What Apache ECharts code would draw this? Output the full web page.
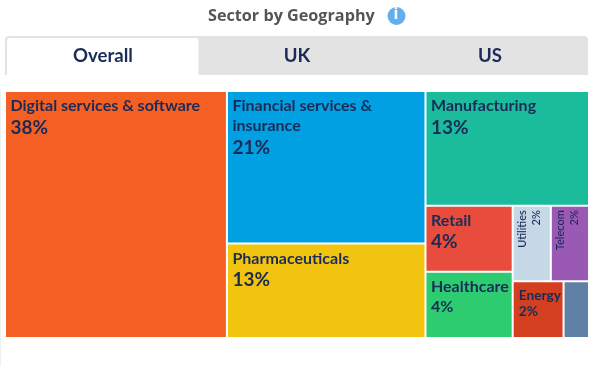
<!DOCTYPE html>
<html><head><meta charset="utf-8">
<style>html,body{margin:0;padding:0;background:#fff}#c{width:595px;height:366px}</style>
<script src="https://cdn.jsdelivr.net/npm/echarts@6/dist/echarts.min.js"></script>
</head><body><div id="c"></div>
<script>
const titleText = 'Sector by Geography';
const tabs = ['Overall', 'UK', 'US'];
const sectors = ['Digital services & software','Financial services & insurance','Pharmaceuticals','Manufacturing','Retail','Healthcare','Utilities','Telecom','Energy','Other'];
const shares = [38,21,13,13,4,4,2,2,2,1];
const colors = ['#F46023','#00A0E3','#F1C40F','#1ABC9C','#E74C3C','#2ECC71','#C5D8E6','#9B59B6','#D33F1F','#6180A5'];
const big = new Set(['Digital services & software','Financial services & insurance','Pharmaceuticals','Manufacturing','Retail']);
const vertical = new Set(['Utilities','Telecom']);
const hidden = new Set(['Other']);
const ink = '#1B2B57';
const font = 'Lato';

const data = sectors.map((n,i)=>{
  const d = {name:n,value:shares[i],itemStyle:{color:colors[i]}};
  if (hidden.has(n)) d.label={show:false};
  if (vertical.has(n)) d.label={rotate:90,position:'insideTop',distance:4,offset:[5,16],overflow:'none',align:'right',verticalAlign:'middle',lineHeight:14,
     formatter:'{s|{b}}\n{s|{c}%}',rich:{s:{fontSize:11,fontWeight:500,fontFamily:font,color:ink,lineHeight:14}}};
  if (n==='Energy') d.label={formatter:'{e|{b}}\n{e|{c}%}',padding:[5,5],rich:{e:{fontSize:13.7,fontWeight:'bold',fontFamily:font,color:ink,lineHeight:16}}};
  return d;
});
const chart = echarts.init(document.getElementById('c'));
chart.setOption({
  animation:false,
  graphic:[
    {type:'text',left:208,top:8,style:{text:titleText,font:'bold 16.2px "Open Sans"',fill:'#555'}},
    {type:'circle',shape:{cx:396.5,cy:16,r:9},style:{fill:'#62AEEF'}},
    {type:'text',left:393.5,top:6,style:{text:'i',font:'bold 16px "Open Sans"',fill:'#fff'}},
    {type:'rect',shape:{x:5,y:36,width:583,height:39,r:[4,4,0,0]},style:{fill:'#E3E3E3'}},
    {type:'rect',shape:{x:7,y:38,width:191.5,height:37,r:[3,3,0,0]},style:{fill:'#fff'}},
    {type:'text',x:103,y:56,style:{text:tabs[0],font:'bold 18.6px Lato',fill:ink,align:'center',verticalAlign:'middle'}},
    {type:'text',x:297,y:56,style:{text:tabs[1],font:'bold 18.6px Lato',fill:ink,align:'center',verticalAlign:'middle'}},
    {type:'text',x:490,y:56,style:{text:tabs[2],font:'bold 18.6px Lato',fill:ink,align:'center',verticalAlign:'middle'}},
    {type:'line',shape:{x1:0.5,y1:90,x2:0.5,y2:366},style:{stroke:'#EFEFEF',lineWidth:1}}
  ],
  series:[{
    type:'treemap',left:4,top:90,width:586,height:249,
    roam:false,nodeClick:false,breadcrumb:{show:false},sort:false,
    itemStyle:{borderWidth:1,borderColor:'rgba(255,255,255,0.65)',gapWidth:0},
    label:{show:true,position:'insideTopLeft',distance:0,padding:[4,4.5],overflow:'none',
      formatter:p=>{
        const nm=p.name==='Financial services & insurance'?'{a|Financial services &}\n{a|insurance}':`{a|${p.name}}`;
        return `${nm}\n{${big.has(p.name)?'b':'c'}|${p.value}%}`;
      },
      rich:{a:{fontSize:16,fontWeight:'bold',fontFamily:font,color:ink,lineHeight:20},
            b:{fontSize:19,fontWeight:'bold',fontFamily:font,color:ink,lineHeight:23},
            c:{fontSize:16,fontWeight:'bold',fontFamily:font,color:ink,lineHeight:20}}},
    data
  }]
});
</script></body></html>
